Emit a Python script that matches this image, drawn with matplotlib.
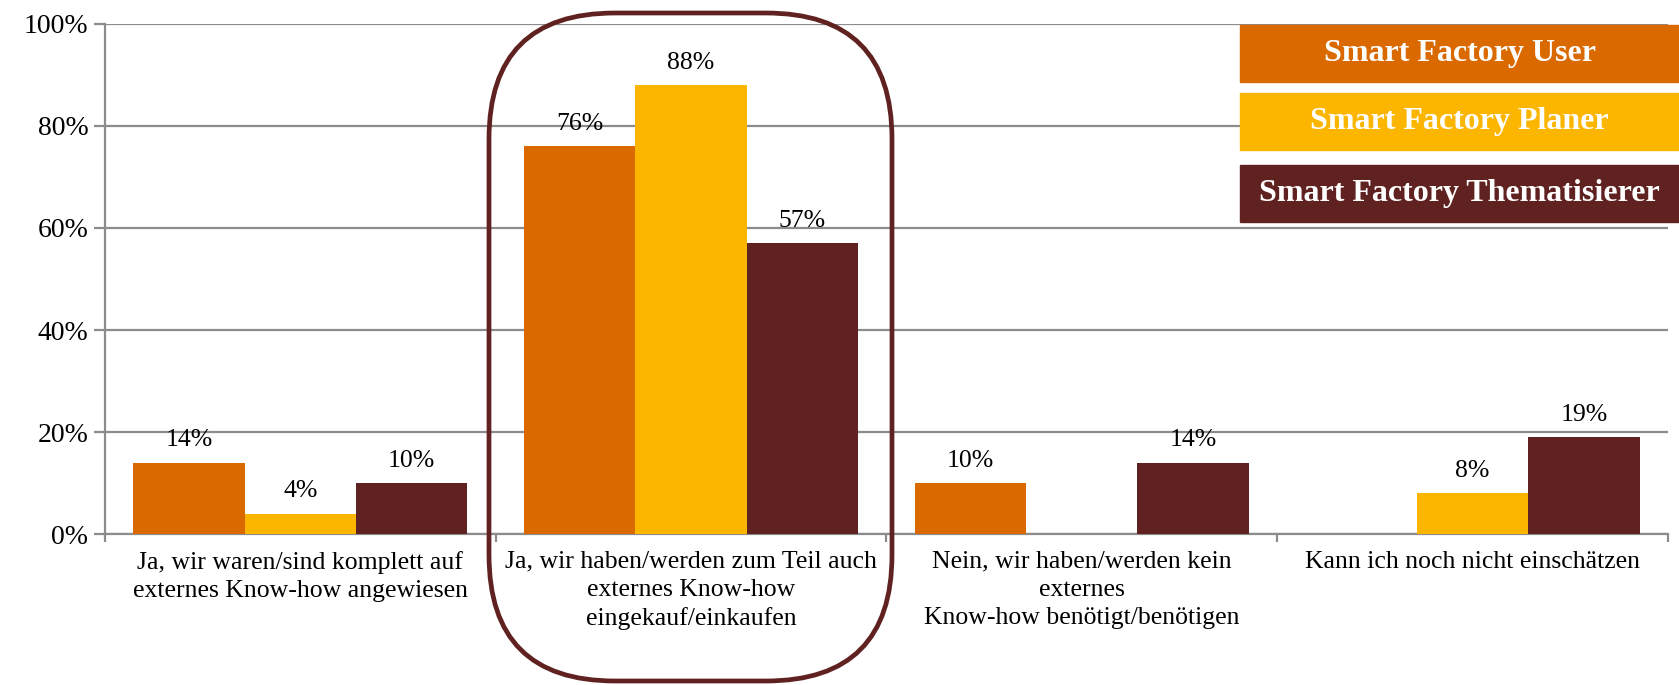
import numpy as np
import matplotlib.pyplot as plt
from matplotlib.patches import FancyBboxPatch, Rectangle

categories = [
    "Ja, wir waren/sind komplett auf\nexternes Know-how angewiesen",
    "Ja, wir haben/werden zum Teil auch\nexternes Know-how\neingekauf/einkaufen",
    "Nein, wir haben/werden kein\nexternes\nKnow-how benötigt/benötigen",
    "Kann ich noch nicht einschätzen",
]
series_names = ["Smart Factory User", "Smart Factory Planer", "Smart Factory Thematisierer"]
user = [14, 76, 10, 0]
planer = [4, 88, 0, 8]
themat = [10, 57, 14, 19]
colors = ["#DA6900", "#FDB600", "#602221"]
yticks = [0, 20, 40, 60, 80, 100]

plt.rcParams["font.family"] = ["Liberation Serif", "DejaVu Serif"]

fig = plt.figure(figsize=(16.79, 6.85), dpi=100)
ax = fig.add_axes([0.0625, 0.2204, 0.9309, 0.7446])

x = np.arange(len(categories))
w = 0.285
for k, (vals, col) in enumerate(zip([user, planer, themat], colors)):
    pos = x + (k - 1) * w
    for xi, v in zip(pos, vals):
        if v == 0:
            continue
        ax.bar(xi, v, width=w, color=col, zorder=3)
        ax.text(xi, v + 2.2, f"{v}%", ha="center", va="bottom", fontsize=18.5, zorder=4)

ax.set_xlim(-0.5, 3.5)
ax.set_ylim(0, 100)
ax.set_yticks(yticks)
ax.set_yticklabels([f"{t}%" for t in yticks], fontsize=20)
ax.yaxis.grid(True, color="#8C8C8C", linewidth=1.6, zorder=0)
ax.set_xticks(np.arange(-0.5, 4.0, 1.0))
ax.set_xticklabels([])
ax.set_xticks(x, minor=True)
ax.set_xticklabels(categories, minor=True, fontsize=18.5, linespacing=1.35)
ax.tick_params(axis="x", which="minor", length=0, pad=12)
ax.tick_params(axis="x", which="major", length=6, color="#8C8C8C", width=1.6)
ax.tick_params(axis="y", length=8, color="#8C8C8C", width=1.6, pad=4)
for s in ["top", "right"]:
    ax.spines[s].set_visible(False)
for s in ["left", "bottom"]:
    ax.spines[s].set_color("#8C8C8C")
    ax.spines[s].set_linewidth(1.6)

# highlight box around second group
W, H = 1679, 685
box = FancyBboxPatch((489 / W, 4 / H), 403 / W, 668 / H,
                     boxstyle="round,pad=0,rounding_size=0.075",
                     mutation_aspect=W / H,
                     transform=fig.transFigure, fill=False,
                     edgecolor="#602221", linewidth=3.4, zorder=10)
fig.patches.append(box)

# legend boxes
tops = [25, 93, 165]
for name, col, t in zip(series_names, colors, tops):
    r = Rectangle((1240 / W, 1 - (t + 57) / H), 439 / W, 57 / H,
                  transform=fig.transFigure, color=col, zorder=5)
    fig.patches.append(r)
    fig.text((1240 + 1679) / 2 / W, 1 - (t + 28.5) / H, name, color="white",
             fontsize=23, fontweight="bold", ha="center", va="center", zorder=6)

fig.savefig("out.png", dpi=100)
